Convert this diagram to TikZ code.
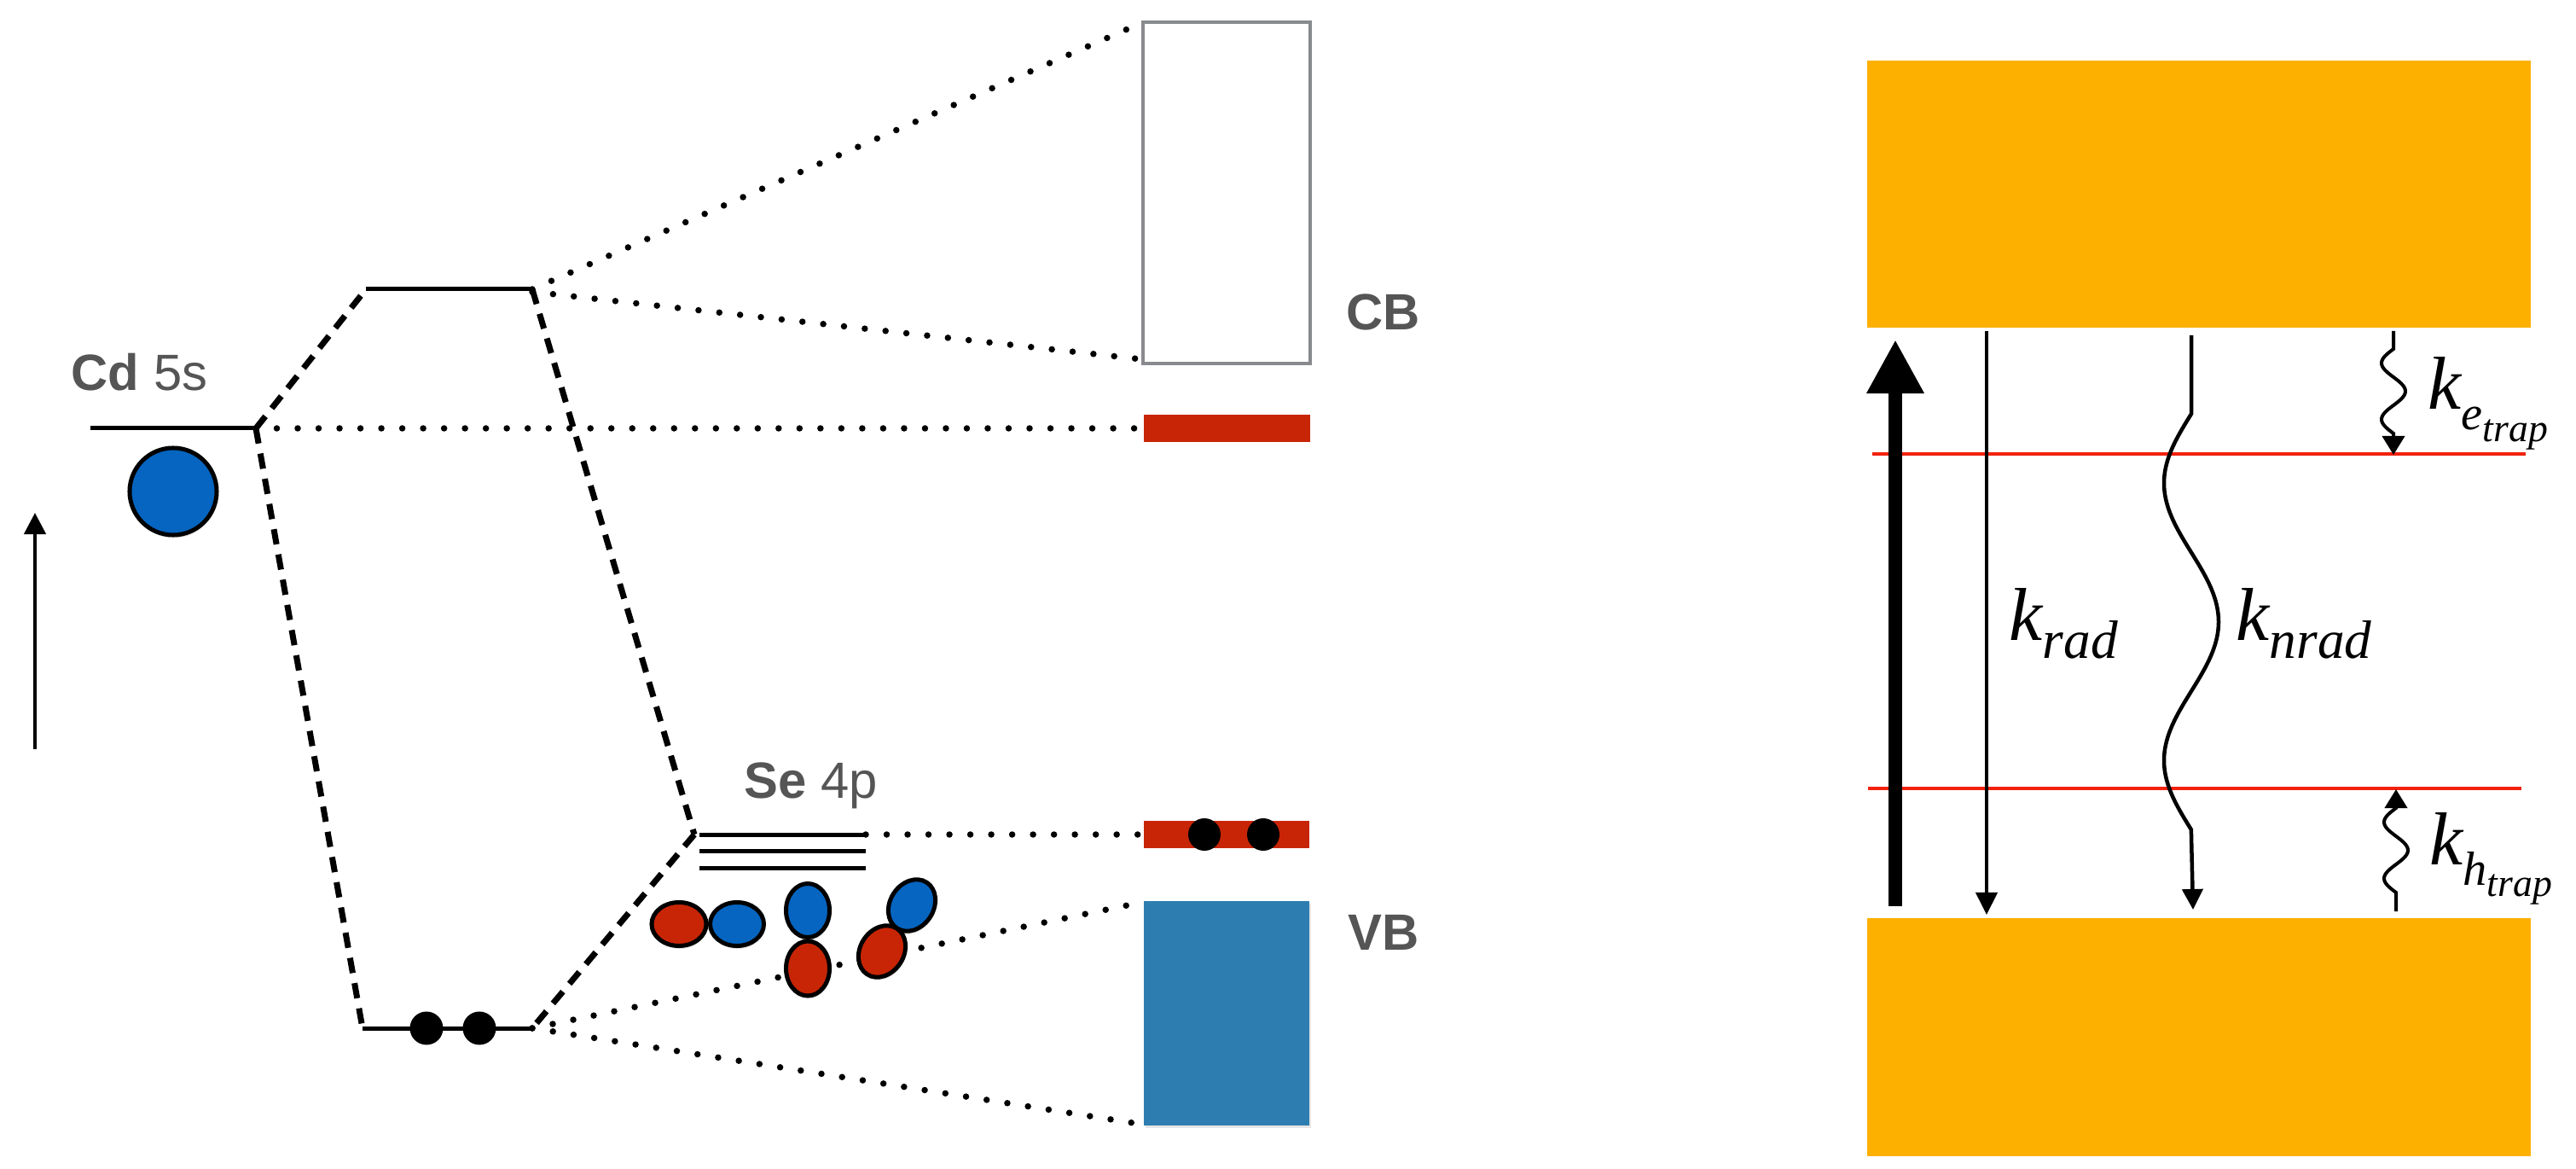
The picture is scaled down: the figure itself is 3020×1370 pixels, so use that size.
\documentclass[tikz,border=0pt]{standalone}
\usepackage{fontspec}
\setmainfont{Liberation Serif}
\newfontfamily\labelsans{Liberation Sans}
\usetikzlibrary{arrows.meta,shadows,shapes.geometric}

\definecolor{orbblue}{RGB}{5,101,192}
\definecolor{orbred}{RGB}{200,37,6}
\definecolor{vbblue}{RGB}{45,125,176}
\definecolor{bandorange}{RGB}{254,176,0}
\definecolor{trapred}{RGB}{242,34,14}
\definecolor{textgrey}{RGB}{85,85,85}
\definecolor{boxgrey}{RGB}{136,138,142}

\begin{document}
\begin{tikzpicture}[x=0.01cm,y=-0.01cm,
  level/.style={line width=0.05cm},
  corr/.style={line width=0.07cm, dash pattern=on 0.18cm off 0.12cm},
  link/.style={line width=0.075cm, dash pattern=on 0pt off 0.245cm, line cap=round},
  orb/.style={ellipse, draw=black, line width=0.05cm, inner sep=0pt,
    drop shadow={opacity=0.22, shadow xshift=0.01cm, shadow yshift=-0.035cm}},
  electron/.style={circle, fill=black, inner sep=0pt, minimum size=0.39cm},
  bandlabel/.style={text=textgrey, font=\labelsans\fontsize{17}{20}\selectfont, inner sep=0pt, anchor=base west},
  rate/.style={font=\fontsize{25}{30}\selectfont\itshape, inner sep=0pt, anchor=base west},
]
\useasboundingbox (0,0) rectangle (3020,1370);

% ---------- energy axis ----------
\coordinate (axb) at (41,878);
\coordinate (axt) at (41,601);
\draw[line width=0.045cm, -{Triangle[length=0.25cm,width=0.25cm]}] (axb) -- (axt);

% ---------- atomic and molecular levels ----------
\coordinate (cdL) at (106,502);
\coordinate (cdR) at (300,502);
\coordinate (abL) at (429,339);
\coordinate (abR) at (624,339);
\coordinate (bL) at (425,1205);
\coordinate (bR) at (624,1205);
\coordinate (seL) at (820,978);
\coordinate (seR) at (1015,978);
\coordinate (seM) at (814,978);

% band edges
\coordinate (cbTL) at (1338,27);
\coordinate (cbBL) at (1338,421);
\coordinate (trapL) at (1341,502);
\coordinate (seTrapL) at (1341,978);
\coordinate (vbTL) at (1341,1057);
\coordinate (vbBL) at (1341,1318);

% dotted links from levels to bands
\draw[link] (abR) -- (cbTL);
\draw[link] ([yshift=-0.03cm]abR) -- (cbBL);
\draw[link] (cdR) -- (trapL);
\draw[link] (seR) -- (seTrapL);
\draw[link] (bR) -- (vbTL);
\draw[link] (bR) -- (vbBL);

% dashed correlation lines
\draw[corr] (cdR) -- (abL);
\draw[corr] (cdR) -- (bL);
\draw[corr] (abR) -- (seM);
\draw[corr] (seM) -- (bR);

% level lines
\draw[level] (cdL) -- (cdR);
\draw[level] (abL) -- (abR);
\draw[level] (bL) -- (bR);
\draw[level] (seL) -- (seR);
\draw[level] (820,997) -- (1015,997);
\draw[level] (820,1017) -- (1015,1017);

% ---------- bands ----------
\draw[draw=boxgrey, line width=0.045cm, fill=white] (1340,26) rectangle (1536,426);
\fill[orbred] (1341,486) rectangle (1536,518);
\fill[orbred] (1341,962) rectangle (1535,994);
\fill[vbblue, drop shadow={opacity=0.2, shadow xshift=0.02cm, shadow yshift=-0.03cm}]
  (1341,1056) rectangle (1535,1319);

% ---------- orbitals and electrons ----------
\node[orb, fill=orbblue, minimum size=1.02cm, circle] (cd5s) at (203,576) {};

\node[orb, fill=orbred, minimum width=0.64cm, minimum height=0.51cm] (pxa) at (796,1083) {};
\node[orb, fill=orbblue, minimum width=0.63cm, minimum height=0.51cm] (pxb) at (864,1083) {};
\node[orb, fill=orbblue, minimum width=0.51cm, minimum height=0.63cm] (pya) at (947,1067) {};
\node[orb, fill=orbred, minimum width=0.51cm, minimum height=0.64cm] (pyb) at (947,1135) {};
\node[orb, fill=orbblue, minimum width=0.64cm, minimum height=0.51cm, rotate=57] (pza) at (1069,1061) {};
\node[orb, fill=orbred, minimum width=0.64cm, minimum height=0.51cm, rotate=57] (pzb) at (1034,1115) {};

\node[electron] (e1) at (500,1205) {};
\node[electron] (e2) at (562,1205) {};
\node[electron, minimum size=0.38cm] (e3) at (1412,978) {};
\node[electron, minimum size=0.38cm] (e4) at (1481,978) {};

% ---------- labels ----------
\node[bandlabel] (cdlab) at (83,458) {{\bfseries Cd} 5s};
\node[bandlabel] (selab) at (872,935) {{\bfseries Se} 4p};
\node[bandlabel] (cblab) at (1578,387) {\bfseries CB};
\node[bandlabel] (vblab) at (1580,1113) {\bfseries VB};

% ---------- kinetic scheme ----------
\fill[bandorange] (2189,71) rectangle (2967,384);
\fill[bandorange] (2189,1076) rectangle (2967,1355);
\draw[trapred, line width=0.045cm] (2195,532) -- (2961,532);
\draw[trapred, line width=0.045cm] (2190,924) -- (2956,924);

% excitation
\coordinate (exb) at (2222,1062);
\coordinate (ext) at (2222,398);
\draw[line width=0.16cm, -{Triangle[length=0.63cm,width=0.63cm]}] (exb) -- (ext);

% radiative decay
\coordinate (radt) at (2329,388);
\coordinate (radb) at (2329,1072);
\draw[line width=0.04cm, -{Triangle[length=0.26cm,width=0.25cm]}] (radt) -- (radb);
\node[rate] (krad) at (2355,750) {k\raisebox{-0.21cm}{\fontsize{18}{18}\selectfont rad}};

% non-radiative decay
\coordinate (nradt) at (2569,393);
\coordinate (nradb) at (2571,1066);
\draw[line width=0.045cm, -{Triangle[length=0.24cm,width=0.24cm]}]
  (nradt) -- (2569,485)
  -- plot[domain=0:1.5, samples=90, smooth] ({2569-32*sin(360*\x)},{485+325*\x})
  -- (nradb);
\node[rate] (knrad) at (2621,750) {k\raisebox{-0.21cm}{\fontsize{18}{18}\selectfont nrad}};

% electron trapping
\coordinate (etrt) at (2806,388);
\coordinate (etrb) at (2806,533);
\draw[line width=0.04cm, -{Triangle[length=0.22cm,width=0.26cm]}]
  (etrt) -- (2806,409)
  -- plot[domain=0:1.5, samples=50, smooth] ({2806-14*sin(360*\x)},{409+66*\x})
  -- (etrb);
\node[rate] (ketrap) at (2846,480)
  {k\raisebox{-0.23cm}{\fontsize{16}{16}\selectfont e\raisebox{-0.14cm}{\fontsize{13}{13}\selectfont trap}}};

% hole trapping
\coordinate (htrb) at (2809,1068);
\coordinate (htrt) at (2809,925);
\draw[line width=0.04cm, -{Triangle[length=0.22cm,width=0.26cm]}]
  (htrb) -- (2809,1046)
  -- plot[domain=0:1.5, samples=50, smooth] ({2809-14*sin(360*\x)},{1046-66*\x})
  -- (htrt);
\node[rate] (khtrap) at (2848,1013)
  {k\raisebox{-0.24cm}{\fontsize{16}{16}\selectfont h\raisebox{-0.13cm}{\fontsize{13}{13}\selectfont trap}}};

\end{tikzpicture}
\end{document}
